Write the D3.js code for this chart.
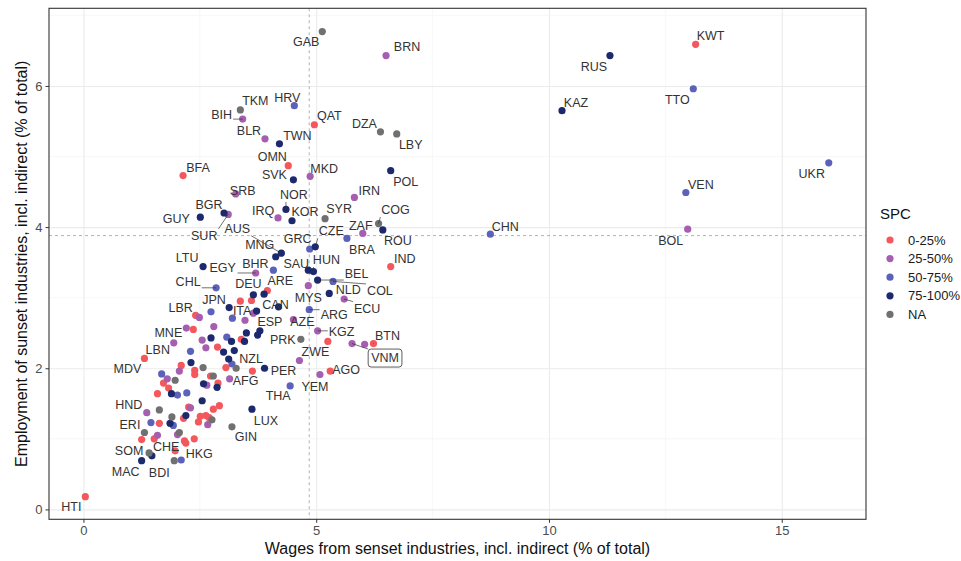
<!DOCTYPE html>
<html>
<head>
<meta charset="utf-8">
<script src="https://cdn.jsdelivr.net/npm/d3@7"></script>
<style>
  body { margin: 0; background: #fff; }
  text { font-family: Arial, "Liberation Sans", sans-serif; }
</style>
</head>
<body>
<svg id="chart" width="961" height="561"></svg>
<script>
// SPC groups and their colours
var spcLevels = ["0-25%", "25-50%", "50-75%", "75-100%", "NA"];
var spcColors = ["#F2585C", "#A65EB0", "#5C62B9", "#1C296C", "#707070"];

// [country, wages from sunset industries %, employment in sunset industries %]
var spc0_25 = [
  ["KWT", 13.15, 6.59], ["QAT", 4.96, 5.45], ["OMN", 4.40, 4.87], ["BFA", 2.14, 4.73],
  ["IND", 6.60, 3.44], ["ARE", 3.95, 3.10], [null, 3.37, 2.95], [null, 3.61, 2.96],
  ["LBR", 2.41, 2.75], [null, 2.36, 2.55], [null, 3.39, 2.41], [null, 5.25, 2.38],
  ["BTN", 6.23, 2.35], [null, 2.88, 2.30], ["MDV", 1.31, 2.14], [null, 2.10, 2.04],
  [null, 3.06, 2.01], [null, 3.63, 1.96], [null, 2.39, 1.97], [null, 2.39, 1.91],
  ["AGO", 5.30, 1.96], [null, 2.73, 1.89], [null, 1.72, 1.79], [null, 2.89, 1.79],
  [null, 1.83, 1.72], [null, 1.59, 1.64], [null, 2.26, 1.45], [null, 2.79, 1.42],
  [null, 2.92, 1.47], [null, 2.15, 1.29], [null, 2.51, 1.32], [null, 2.63, 1.33],
  [null, 2.70, 1.30], [null, 2.47, 1.24], [null, 1.63, 1.22], [null, 1.25, 0.99],
  [null, 1.52, 1.00], [null, 2.17, 0.97], [null, 2.20, 0.94], [null, 2.38, 1.00],
  ["CHE", 1.97, 0.83], ["HTI", 0.04, 0.18]
];
var spc25_50 = [
  ["BRN", 6.50, 6.43], ["BIH", 3.42, 5.53], ["BLR", 3.90, 5.25], ["MKD", 4.87, 4.72],
  ["SRB", 3.27, 4.47], ["IRN", 5.82, 4.42], ["SUR", 3.11, 4.18], ["IRQ", 4.18, 4.13],
  ["ZAF", 6.00, 3.91], ["BOL", 12.98, 3.97], ["EGY", 3.70, 3.35], ["MYS", 4.83, 3.17],
  ["ECU", 5.60, 2.98], [null, 3.65, 2.78], [null, 2.49, 2.72], [null, 3.47, 2.68],
  ["AZE", 4.51, 2.69], ["KGZ", 5.03, 2.53], ["MNE", 2.21, 2.57], [null, 2.80, 2.59],
  ["LBN", 1.94, 2.36], [null, 2.55, 2.40], ["VNM", 5.77, 2.35], [null, 6.04, 2.34],
  [null, 2.63, 2.29], ["ZWE", 4.64, 2.11], [null, 2.06, 1.96], ["YEM", 5.08, 1.91],
  [null, 1.80, 1.85], ["AFG", 3.14, 1.85], [null, 2.65, 1.76], [null, 2.30, 1.44],
  ["HND", 1.36, 1.37], [null, 2.67, 1.20], [null, 1.59, 1.05], [null, 2.02, 1.06]
];
var spc50_75 = [
  ["HRV", 4.53, 5.72], ["TTO", 13.10, 5.96], ["UKR", 16.01, 4.91], ["VEN", 12.94, 4.49],
  ["CHN", 8.74, 3.90], ["BRA", 5.66, 3.84], ["GRC", 4.86, 3.69], ["BHR", 4.08, 3.39],
  ["COL", 5.36, 3.23], ["CHL", 2.85, 3.14], ["ARG", 4.85, 2.83], ["JPN", 2.74, 2.80],
  [null, 3.20, 2.71], [null, 3.08, 2.44], [null, 2.30, 2.24], [null, 3.19, 2.06],
  [null, 1.68, 1.92], ["THA", 4.44, 1.75], [null, 2.02, 1.62], [null, 2.22, 1.65],
  ["ERI", 1.45, 1.23], [null, 1.93, 1.19], ["HKG", 2.10, 0.70]
];
var spc75_100 = [
  ["RUS", 11.31, 6.43], ["KAZ", 10.28, 5.65], ["TWN", 4.21, 5.18], ["POL", 6.60, 4.80],
  ["SVK", 4.51, 4.67], ["NOR", 4.35, 4.25], ["BGR", 3.02, 4.20], ["GUY", 2.51, 4.14],
  ["KOR", 4.48, 4.09], ["ROU", 6.43, 3.96], ["CZE", 4.98, 3.72], ["AUS", 4.25, 3.63],
  ["MNG", 4.13, 3.58], ["LTU", 2.57, 3.44], ["SAU", 4.83, 3.39], ["HUN", 4.94, 3.37],
  ["BEL", 5.03, 3.25], ["DEU", 3.65, 3.04], [null, 3.88, 3.05], ["NLD", 5.28, 3.06],
  ["CAN", 4.19, 2.87], ["ITA", 3.13, 2.86], [null, 3.72, 2.81], [null, 3.50, 2.50],
  ["ESP", 3.79, 2.53], [null, 3.74, 2.47], [null, 2.74, 2.43], [null, 3.18, 2.38],
  [null, 3.46, 2.38], [null, 3.01, 2.23], [null, 3.24, 2.25], [null, 3.12, 2.13],
  [null, 2.31, 2.08], ["PER", 3.89, 2.00], [null, 2.58, 1.78], [null, 2.87, 1.73],
  [null, 1.89, 1.64], [null, 2.55, 1.54], ["LUX", 3.62, 1.42], [null, 2.20, 1.33],
  [null, 1.86, 1.22], [null, 1.47, 0.76], ["MAC", 1.25, 0.69]
];
var spcNA = [
  ["GAB", 5.13, 6.77], ["TKM", 3.37, 5.66], ["DZA", 6.38, 5.35], ["LBY", 6.73, 5.32],
  ["SYR", 5.19, 4.12], ["COG", 6.34, 4.05], ["PRK", 4.67, 2.41], [null, 2.57, 2.01],
  ["NZL", 3.28, 2.00], [null, 2.79, 1.89], [null, 1.97, 1.83], [null, 1.63, 1.41],
  [null, 1.90, 1.31], [null, 2.76, 1.27], ["GIN", 3.19, 1.17], [null, 1.31, 1.09],
  [null, 2.06, 1.09], ["SOM", 1.41, 0.80], ["BDI", 1.95, 0.69]
];
var spcSeries = [spc0_25, spc25_50, spc50_75, spc75_100, spcNA];

var xTicks = [0, 5, 10, 15], xMinor = [2.5, 7.5, 12.5];
var yTicks = [0, 2, 4, 6], yMinor = [1, 3, 5, 7];
var wageRef = 4.85, empRef = 3.88;   // dashed reference lines
var xTitle = "Wages from senset industries, incl. indirect (% of total)";
var yTitle = "Employment of sunset industries, incl. indirect (% of total)";
var boxedLabels = ["VNM"];

// label placement (px offset of the label centre from its point, 1 = draw a segment)
var labelNudge = {
  GAB: [-16, 10], BRN: [21, -9], RUS: [-16, 11], KWT: [15, -9], KAZ: [14, -8], TTO: [-16, 11],
  UKR: [-17, 11], VEN: [15, -8], BOL: [-17, 11], CHN: [15, -8], TKM: [15, -9], BIH: [-21, -5, 1],
  HRV: [-7, -8], QAT: [15, -9], BLR: [-16, -8], TWN: [18, -8], DZA: [-16, -8], LBY: [14, 11],
  OMN: [-16, -9], BFA: [15, -8], SVK: [-19, -5], MKD: [14, -8], POL: [15, 11], SRB: [7, -3],
  IRN: [15, -7], NOR: [8, -15, 1], BGR: [-15, -8], GUY: [-24, 1], SUR: [-24, 21, 1], IRQ: [-15, -7],
  KOR: [13, -9], SYR: [14, -10], COG: [17, -14, 1], ROU: [15, 11], ZAF: [-2, -8], BRA: [15, 11],
  CZE: [16, -16, 1], GRC: [-12, -10], AUS: [-44, -25, 1], MNG: [-16, -12], LTU: [-16, -9],
  EGY: [-33, -5, 1], BHR: [-18, -7], SAU: [-12, -7], HUN: [13, -12, 1], IND: [14, -8],
  CHL: [-28, -6, 1], DEU: [-5, -11], ARE: [13, -10], BEL: [39, -7, 1], COL: [47, 9, 1],
  MYS: [0, 12], NLD: [19, -4], ECU: [23, 9, 1], JPN: [3, -12], LBR: [-15, -8], CAN: [-3, -2],
  ITA: [13, 3], ARG: [25, 5, 1], ESP: [10, -9], AZE: [9, 2], MNE: [-18, 4], KGZ: [24, 1, 1],
  PRK: [-18, 0], BTN: [14, -8, 1], VNM: [33, 14, 1], LBN: [-16, 7], MDV: [-17, 10],
  ZWE: [16, -9], NZL: [15, -10], PER: [19, 2], AGO: [16, -2], AFG: [16, 2], YEM: [-5, 12],
  THA: [-12, 10], HND: [-18, -8], LUX: [14, 11], ERI: [-21, 2], GIN: [14, 10], CHE: [-9, -4],
  SOM: [-20, -2], HKG: [18, -7], MAC: [-16, 11], BDI: [-15, 12], HTI: [-14, 10]
};

var svg = d3.select("#chart");
var pl = 49, pr = 866, pt = 8.3, pb = 519.3;

var x = d3.scaleLinear().domain([-0.74, 16.81]).range([pl, pr]);
var y = d3.scaleLinear().domain([-0.14, 7.10]).range([pb, pt]);
var color = d3.scaleOrdinal().domain(spcLevels).range(spcColors);

var points = [];
spcSeries.forEach(function (rows, i) {
  rows.forEach(function (r) {
    points.push({ code: r[0], wage: r[1], emp: r[2], spc: spcLevels[i] });
  });
});

// grid
var grid = svg.append("g");
grid.selectAll(".vminor").data(xMinor).enter().append("line")
  .attr("x1", function (d) { return x(d); }).attr("x2", function (d) { return x(d); })
  .attr("y1", pt).attr("y2", pb).attr("stroke", "#F2F2F2").attr("stroke-width", 0.6);
grid.selectAll(".hminor").data(yMinor).enter().append("line")
  .attr("y1", function (d) { return y(d); }).attr("y2", function (d) { return y(d); })
  .attr("x1", pl).attr("x2", pr).attr("stroke", "#F2F2F2").attr("stroke-width", 0.6);

var gx = svg.append("g").attr("transform", "translate(0," + pb + ")")
  .call(d3.axisBottom(x).tickValues(xTicks).tickSize(-(pb - pt)).tickFormat(""));
var gy = svg.append("g").attr("transform", "translate(" + pl + ",0)")
  .call(d3.axisLeft(y).tickValues(yTicks).tickSize(-(pr - pl)).tickFormat(""));
[gx, gy].forEach(function (g) {
  g.select(".domain").remove();
  g.selectAll("line").attr("stroke", "#EBEBEB").attr("stroke-width", 1.1);
});

// reference lines
svg.append("line").attr("x1", x(wageRef)).attr("x2", x(wageRef)).attr("y1", pt).attr("y2", pb)
  .attr("stroke", "#A0A0A0").attr("stroke-width", 0.8).attr("stroke-dasharray", "3,3");
svg.append("line").attr("x1", pl).attr("x2", pr).attr("y1", y(empRef)).attr("y2", y(empRef))
  .attr("stroke", "#A0A0A0").attr("stroke-width", 0.8).attr("stroke-dasharray", "3,3");

// points
svg.append("g").selectAll("circle").data(points).enter().append("circle")
  .attr("cx", function (d) { return x(d.wage); })
  .attr("cy", function (d) { return y(d.emp); })
  .attr("r", 3.6)
  .attr("fill", function (d) { return color(d.spc); });

// labels
var labelled = points.filter(function (d) { return d.code && labelNudge[d.code]; });
var segHome = svg.append("g");
var labHome = svg.append("g");
labelled.forEach(function (d) {
  var nd = labelNudge[d.code];
  var px = x(d.wage), py = y(d.emp);
  var lx = px + nd[0], ly = py + nd[1];
  var boxed = boxedLabels.indexOf(d.code) >= 0;
  var g = labHome.append("g");
  var t = g.append("text").attr("x", lx).attr("y", ly).attr("dy", "0.36em")
    .attr("text-anchor", "middle").attr("font-size", "12.5px").attr("fill", "#333")
    .text(d.code);
  var bb = t.node().getBBox();
  var pad = boxed ? 3 : 1;
  var bx0 = bb.x - pad, bx1 = bb.x + bb.width + pad, by0 = bb.y - pad + 1, by1 = bb.y + bb.height + pad - 1;
  if (boxed) {
    g.insert("rect", "text").attr("x", bx0).attr("y", by0).attr("width", bx1 - bx0).attr("height", by1 - by0)
      .attr("rx", 3).attr("fill", "#fff").attr("stroke", "#333").attr("stroke-width", 0.8);
  }
  if (nd[2]) {
    var cx = Math.max(bx0, Math.min(px, bx1)), cy = Math.max(by0, Math.min(py, by1));
    segHome.append("line").attr("x1", px).attr("y1", py).attr("x2", cx).attr("y2", cy)
      .attr("stroke", "#333").attr("stroke-width", 0.7);
  }
});

// panel border
svg.append("rect").attr("x", pl).attr("y", pt).attr("width", pr - pl).attr("height", pb - pt)
  .attr("fill", "none").attr("stroke", "#333").attr("stroke-width", 1.1);

// axes
var ax = svg.append("g").attr("transform", "translate(0," + pb + ")")
  .call(d3.axisBottom(x).tickValues(xTicks).tickSize(3.5).tickPadding(3));
var ay = svg.append("g").attr("transform", "translate(" + pl + ",0)")
  .call(d3.axisLeft(y).tickValues(yTicks).tickSize(3.5).tickPadding(3));
[ax, ay].forEach(function (g) {
  g.select(".domain").remove();
  g.selectAll("line").attr("stroke", "#333");
  g.selectAll("text").attr("fill", "#4D4D4D").attr("font-size", "13px")
    .attr("font-family", "Arial, 'Liberation Sans', sans-serif");
});

svg.append("text").attr("x", (pl + pr) / 2).attr("y", 554).attr("text-anchor", "middle")
  .attr("font-size", "16px").attr("fill", "#111").text(xTitle);
svg.append("text").attr("transform", "translate(27," + (pt + pb) / 2 + ") rotate(-90)")
  .attr("text-anchor", "middle").attr("font-size", "16px").attr("fill", "#111").text(yTitle);

// legend
var leg = svg.append("g").attr("transform", "translate(880,0)");
leg.append("text").attr("x", 0).attr("y", 219).attr("font-size", "15px").attr("fill", "#111").text("SPC");
var items = leg.selectAll(".item").data(spcLevels).enter().append("g")
  .attr("transform", function (d, i) { return "translate(0," + (240 + i * 18.6) + ")"; });
items.append("circle").attr("cx", 10).attr("cy", 0).attr("r", 3.6)
  .attr("fill", function (d) { return color(d); });
items.append("text").attr("x", 28).attr("y", 0).attr("dy", "0.36em")
  .attr("font-size", "13px").attr("fill", "#1a1a1a").text(function (d) { return d; });
</script>
</body>
</html>
